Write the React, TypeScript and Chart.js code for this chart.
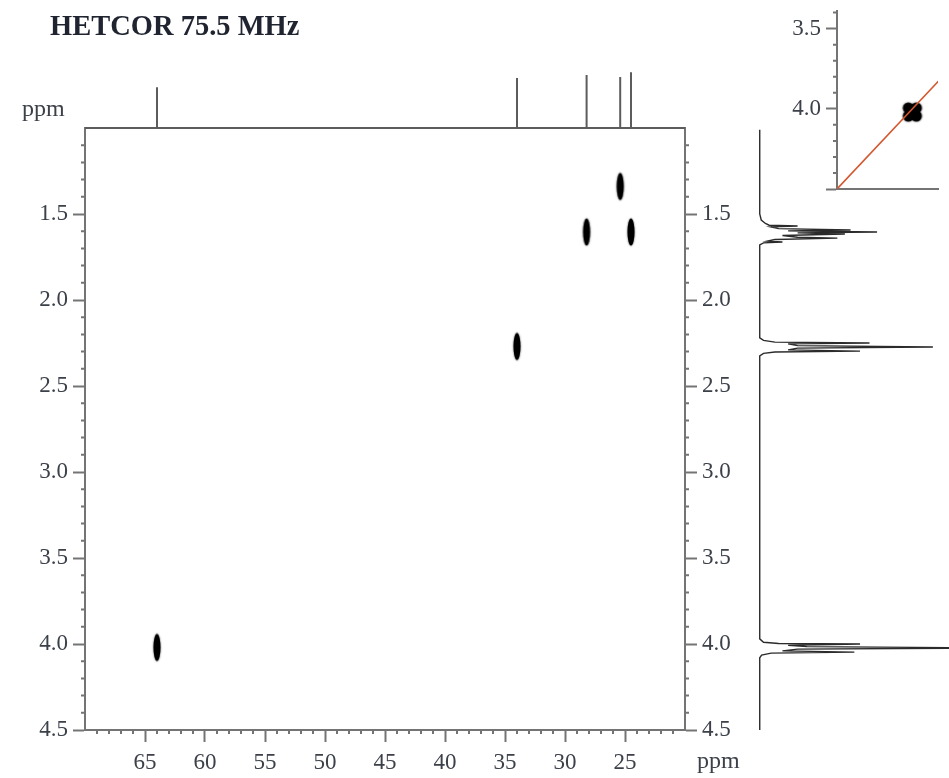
import React, { useEffect, useRef } from 'react';
import { Chart, registerables } from 'chart.js';

Chart.register(...registerables);

// ---------------- data ----------------
// 13C projection (top): chemical shifts (ppm) and relative stick heights
const C13_SHIFTS = [64.0, 34.0, 28.2, 25.4, 24.5];
const C13_HEIGHTS = [0.6, 0.735, 0.78, 0.75, 0.82];

// HETCOR cross peaks: 13C shift (x) and 1H shift (y)
const CROSS_C = [64.0, 34.0, 28.2, 25.4, 24.5];
const CROSS_H = [4.02, 2.27, 1.605, 1.34, 1.605];

// 1H projection (right): trace (ppm, relative intensity)
const H_PPM = [
  1.01, 1.5, 1.535, 1.555, 1.565, 1.57, 1.575, 1.585, 1.593, 1.598, 1.605, 1.61, 1.616, 1.625, 1.635, 1.64,
  1.648, 1.658, 1.663, 1.668, 1.68,
  2.22, 2.235, 2.245, 2.25, 2.255, 2.265, 2.273, 2.28, 2.29, 2.297, 2.302, 2.31, 2.325,
  3.97, 3.99, 3.997, 4.0, 4.008, 4.015, 4.023, 4.03, 4.04, 4.047, 4.053, 4.065, 4.08, 4.5,
];
const H_INT = [
  0, 0, 0.008, 0.03, 0.05, 0.2, 0.06, 0.1, 0.48, 0.15, 0.62, 0.2, 0.45, 0.12, 0.2, 0.41,
  0.08, 0.04, 0.12, 0.02, 0,
  0, 0.02, 0.08, 0.58, 0.15, 0.2, 0.915, 0.2, 0.15, 0.53, 0.08, 0.02, 0,
  0, 0.02, 0.1, 0.53, 0.15, 0.25, 1.2, 0.2, 0.12, 0.5, 0.06, 0.01, 0, 0,
];

// Axis tick labels
const X_TICK_LABELS = [65, 60, 55, 50, 45, 40, 35, 30, 25];
const Y_TICK_LABELS = [1.5, 2.0, 2.5, 3.0, 3.5, 4.0, 4.5];

// Inset (cropped COSY panel, top right)
const INSET_Y_LABELS = [3.5, 4.0];
const INSET_Y_MAJOR = [3.5, 4.0, 4.5];
const COSY_PEAK_X = [4.0];
const COSY_PEAK_Y = [4.02];
const DIAGONAL = [4.5, 3.8];

// ---------------- styling helpers ----------------
const SERIF = "'Liberation Serif', 'Times New Roman', serif";
const LABEL_COLOR = '#3c4049';
const AXIS_COLOR = '#747474';
const TICK_FONT = { family: SERIF, size: 23 };

const near = (arr: number[], v: number) => arr.some((a) => Math.abs(a - v) < 1e-6);

function minorTicks(id: string, specs: { scale: string; isMajor: (v: number) => boolean; len: number }[]) {
  return {
    id,
    afterDraw(chart: any) {
      const ctx = chart.ctx;
      ctx.save();
      ctx.strokeStyle = AXIS_COLOR;
      ctx.lineWidth = 2;
      for (const sp of specs) {
        const s = chart.scales[sp.scale];
        if (!s) continue;
        ctx.beginPath();
        for (const t of s.ticks) {
          const v = t.value;
          if (sp.isMajor(v)) continue;
          if (v <= s.min + 1e-9 || v >= s.max - 1e-9) continue;
          const p = s.getPixelForValue(v);
          if (s.position === 'left') {
            ctx.moveTo(s.right - sp.len, p);
            ctx.lineTo(s.right, p);
          } else if (s.position === 'right') {
            ctx.moveTo(s.left, p);
            ctx.lineTo(s.left + sp.len, p);
          } else if (s.position === 'bottom') {
            ctx.moveTo(p, s.top);
            ctx.lineTo(p, s.top + sp.len);
          }
        }
        ctx.stroke();
      }
      ctx.restore();
    },
  };
}

function ellipseStyle() {
  const c = document.createElement('canvas');
  c.width = 16;
  c.height = 38;
  const g = c.getContext('2d')!;
  g.fillStyle = '#000';
  g.shadowColor = 'rgba(0,0,0,0.8)';
  g.shadowBlur = 2;
  g.beginPath();
  g.ellipse(8, 19, 3.5, 13.5, 0, 0, Math.PI * 2);
  g.fill();
  return c;
}

function cloverStyle() {
  const c = document.createElement('canvas');
  c.width = 26;
  c.height = 26;
  const g = c.getContext('2d')!;
  g.fillStyle = '#000';
  g.shadowColor = 'rgba(0,0,0,0.7)';
  g.shadowBlur = 2;
  const offs = [[-4, -4], [4, -4], [-4, 4], [4, 4]];
  for (const [dx, dy] of offs) {
    g.beginPath();
    g.arc(13 + dx, 13 + dy, 5.5, 0, Math.PI * 2);
    g.fill();
  }
  g.fillRect(9, 9, 8, 8);
  return c;
}

// ---------------- chart configs ----------------
function mainConfig(): any {
  const yIsMajor = (v: number) => near(Y_TICK_LABELS, v);
  const xIsMajor = (v: number) => near(X_TICK_LABELS, v);
  const yScale = (position: string, width: number) => ({
    type: 'linear',
    position,
    reverse: true,
    min: 1.0,
    max: 4.5,
    ticks: {
      stepSize: 0.1,
      autoSkip: false,
      padding: 5,
      color: LABEL_COLOR,
      font: TICK_FONT,
      callback: (v: number) => (yIsMajor(v) ? v.toFixed(1) : ''),
    },
    grid: {
      drawOnChartArea: false,
      tickLength: 12,
      tickWidth: 2,
      tickColor: (ctx: any) => (ctx.tick && yIsMajor(ctx.tick.value) ? AXIS_COLOR : 'rgba(0,0,0,0)'),
    },
    border: { display: true, color: AXIS_COLOR, width: 2 },
    afterFit: (s: any) => {
      s.width = width;
    },
  });
  return {
    type: 'scatter',
    data: {
      datasets: [
        {
          data: CROSS_C.map((c, i) => ({ x: c, y: CROSS_H[i] })),
          pointStyle: ellipseStyle(),
          pointRadius: 10,
        },
      ],
    },
    options: {
      responsive: false,
      animation: false,
      events: [],
      layout: { padding: { left: 0, right: 174, top: 128, bottom: 0 } },
      plugins: { legend: { display: false }, tooltip: { enabled: false } },
      scales: {
        x: {
          type: 'linear',
          position: 'bottom',
          reverse: true,
          min: 20,
          max: 70,
          ticks: {
            stepSize: 1,
            autoSkip: false,
            maxRotation: 0,
            minRotation: 0,
            padding: 7,
            color: LABEL_COLOR,
            font: TICK_FONT,
            callback: (v: number) => (xIsMajor(v) ? String(v) : ''),
          },
          grid: {
            drawOnChartArea: false,
            tickLength: 12,
            tickWidth: 2,
            tickColor: (ctx: any) => (ctx.tick && xIsMajor(ctx.tick.value) ? AXIS_COLOR : 'rgba(0,0,0,0)'),
          },
          border: { display: true, color: AXIS_COLOR, width: 2 },
          afterFit: (s: any) => {
            s.height = 48;
          },
        },
        x2: {
          type: 'linear',
          position: 'top',
          reverse: true,
          min: 20,
          max: 70,
          ticks: { display: false },
          grid: { display: false },
          border: { display: true, color: AXIS_COLOR, width: 2 },
          afterFit: (s: any) => {
            s.height = 0;
          },
        },
        y: yScale('left', 85),
        y2: yScale('right', 90),
      },
    },
    plugins: [
      minorTicks('mainMinor', [
        { scale: 'x', isMajor: xIsMajor, len: 4 },
        { scale: 'y', isMajor: yIsMajor, len: 4 },
        { scale: 'y2', isMajor: yIsMajor, len: 4 },
      ]),
    ],
  };
}

function carbonConfig(): any {
  const pts: { x: number; y: number }[] = [{ x: 70, y: 0 }];
  C13_SHIFTS.forEach((s, i) => {
    pts.push({ x: s, y: 0 }, { x: s, y: C13_HEIGHTS[i] }, { x: s, y: 0 });
  });
  pts.push({ x: 20, y: 0 });
  return {
    type: 'scatter',
    data: {
      datasets: [
        {
          data: pts,
          showLine: true,
          borderColor: '#5c5c5c',
          borderWidth: 2,
          pointRadius: 0,
          tension: 0,
        },
      ],
    },
    options: {
      responsive: false,
      animation: false,
      events: [],
      layout: { padding: 0 },
      plugins: { legend: { display: false }, tooltip: { enabled: false } },
      scales: {
        x: { type: 'linear', display: false, reverse: true, min: 20, max: 70 },
        y: { type: 'linear', display: false, min: -0.03, max: 1 },
      },
    },
  };
}

function protonConfig(): any {
  return {
    type: 'scatter',
    data: {
      datasets: [
        {
          data: H_PPM.map((p, i) => ({ x: H_INT[i], y: p })),
          showLine: true,
          borderColor: '#2b2b2b',
          borderWidth: 1.4,
          pointRadius: 0,
          tension: 0,
        },
      ],
    },
    options: {
      responsive: false,
      animation: false,
      events: [],
      layout: { padding: 0 },
      plugins: { legend: { display: false }, tooltip: { enabled: false } },
      scales: {
        x: { type: 'linear', display: false, min: -0.025, max: 1.0 },
        y: { type: 'linear', display: false, reverse: true, min: 1.0, max: 4.5 },
      },
    },
  };
}

function insetConfig(): any {
  const isMajor = (v: number) => near(INSET_Y_MAJOR, v);
  return {
    type: 'scatter',
    data: {
      datasets: [
        {
          data: [
            { x: DIAGONAL[0], y: DIAGONAL[0] },
            { x: DIAGONAL[1], y: DIAGONAL[1] },
          ],
          showLine: true,
          borderColor: '#d2572f',
          borderWidth: 1.6,
          pointRadius: 0,
        },
        {
          data: COSY_PEAK_X.map((x, i) => ({ x, y: COSY_PEAK_Y[i] })),
          pointStyle: cloverStyle(),
          pointRadius: 10,
        },
      ],
    },
    options: {
      responsive: false,
      animation: false,
      events: [],
      layout: { padding: 0 },
      plugins: { legend: { display: false }, tooltip: { enabled: false } },
      scales: {
        x: {
          type: 'linear',
          position: 'bottom',
          reverse: true,
          min: 3.83,
          max: 4.5,
          ticks: { display: false },
          grid: { display: false },
          border: { display: true, color: AXIS_COLOR, width: 2 },
          afterFit: (s: any) => {
            s.height = 11;
            s.paddingLeft = 0;
            s.paddingRight = 0;
          },
        },
        y: {
          type: 'linear',
          position: 'left',
          reverse: true,
          min: 3.39,
          max: 4.5,
          ticks: {
            stepSize: 0.1,
            autoSkip: false,
            includeBounds: false,
            padding: 5,
            color: LABEL_COLOR,
            font: TICK_FONT,
            callback: (v: number) => (near(INSET_Y_LABELS, v) ? v.toFixed(1) : ''),
          },
          grid: {
            drawOnChartArea: false,
            tickLength: 11,
            tickWidth: 2,
            tickColor: (ctx: any) => (ctx.tick && isMajor(ctx.tick.value) ? AXIS_COLOR : 'rgba(0,0,0,0)'),
          },
          border: { display: true, color: AXIS_COLOR, width: 2 },
          afterFit: (s: any) => {
            s.width = 57;
            s.paddingTop = 0;
            s.paddingBottom = 0;
          },
        },
      },
    },
    plugins: [minorTicks('insetMinor', [{ scale: 'y', isMajor, len: 4 }])],
  };
}

// ---------------- components ----------------
function ChartBox(props: { left: number; top: number; width: number; height: number; make: () => any }) {
  const ref = useRef<HTMLCanvasElement>(null);
  useEffect(() => {
    const chart = new Chart(ref.current as HTMLCanvasElement, props.make());
    return () => chart.destroy();
  }, []);
  return (
    <canvas
      ref={ref}
      width={props.width}
      height={props.height}
      style={{
        position: 'absolute',
        left: props.left,
        top: props.top,
        width: props.width,
        height: props.height,
      }}
    />
  );
}

export default function App() {
  return (
    <div
      style={{
        position: 'fixed',
        left: 0,
        top: 0,
        width: 949,
        height: 778,
        background: '#ffffff',
        overflow: 'hidden',
      }}
    >
      <ChartBox left={0} top={0} width={949} height={778} make={mainConfig} />
      <ChartBox left={85} top={60} width={600} height={70} make={carbonConfig} />
      <ChartBox left={755} top={128} width={194} height={602} make={protonConfig} />
      <ChartBox left={780} top={0} width={169} height={200} make={insetConfig} />
      <div
        style={{
          position: 'absolute',
          left: 50,
          top: 12,
          fontFamily: SERIF,
          fontWeight: 'bold',
          fontSize: 28.5,
          lineHeight: '28.5px',
          color: '#1f2430',
          whiteSpace: 'nowrap',
        }}
      >
        HETCOR 75.5 MHz
      </div>
      <div
        style={{
          position: 'absolute',
          left: 22,
          top: 96,
          fontFamily: SERIF,
          fontSize: 24,
          lineHeight: '24px',
          color: LABEL_COLOR,
        }}
      >
        ppm
      </div>
      <div
        style={{
          position: 'absolute',
          left: 697,
          top: 748,
          fontFamily: SERIF,
          fontSize: 24,
          lineHeight: '24px',
          color: LABEL_COLOR,
        }}
      >
        ppm
      </div>
    </div>
  );
}
